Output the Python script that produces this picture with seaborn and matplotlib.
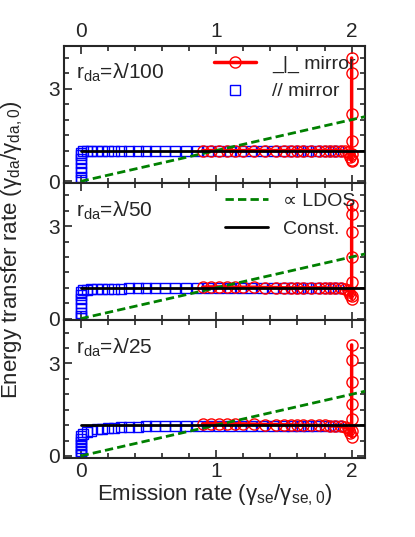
import matplotlib
matplotlib.use("Agg")
import matplotlib.pyplot as plt
import seaborn as sns
import numpy as np

sns.set_style("ticks")
plt.rcParams['font.family'] = ['Liberation Sans', 'DejaVu Sans']
plt.rcParams['mathtext.default'] = 'regular'

labels = ["r$_{da}$=λ/100", "r$_{da}$=λ/50", "r$_{da}$=λ/25"]

# parallel mirror (blue squares)
par_x = [0, 0, 0, 0, 0, 0, 0, 0, 0.02, 0.05, 0.08, 0.12, 0.16, 0.2, 0.25, 0.3, 0.36, 0.42,
         0.48, 0.55, 0.62, 0.7, 0.78, 0.86, 0.94, 1.02, 1.1, 1.18, 1.26, 1.34, 1.42, 1.5,
         1.56, 1.62, 1.68, 1.74, 1.8, 1.86, 1.9]
par_y = [[0.05, 0.15, 0.3, 0.45, 0.6, 0.72, 0.84, 0.93, 0.97, 0.98, 0.99, 0.99, 1.0, 1.0, 1.0,
          1.0, 1.0, 1.0, 1.0, 1.0, 1.0, 1.0, 1.0, 1.0, 1.0, 1.0, 1.0, 1.0, 1.0, 1.0, 1.0, 1.0,
          1.0, 1.0, 1.0, 1.0, 1.0, 1.0, 1.0],
         [0.02, 0.1, 0.2, 0.35, 0.5, 0.65, 0.78, 0.88, 0.92, 0.94, 0.95, 0.96, 0.96, 0.97, 0.97,
          0.97, 0.98, 0.98, 0.98, 0.98, 0.98, 0.98, 0.98, 0.98, 0.98, 0.98, 0.98, 0.98, 0.98,
          0.98, 0.98, 0.98, 0.98, 0.98, 0.98, 0.98, 0.98, 0.98, 0.98],
         [0.02, 0.08, 0.15, 0.25, 0.35, 0.45, 0.55, 0.65, 0.72, 0.78, 0.82, 0.86, 0.88, 0.9,
          0.92, 0.93, 0.94, 0.95, 0.96, 0.96, 0.97, 0.97, 0.97, 0.98, 0.98, 0.98, 0.98, 0.98,
          0.98, 0.98, 0.98, 0.98, 0.98, 0.98, 0.98, 0.98, 0.98, 0.98, 0.98]]

# perpendicular mirror (red circles)
perp_x = [0.9, 0.96, 1.02, 1.08, 1.14, 1.2, 1.28, 1.36, 1.44, 1.5, 1.55, 1.6, 1.64, 1.7,
          1.76, 1.8, 1.84, 1.88, 1.92, 1.95, 1.97, 1.98, 1.99, 2.0, 2.0, 2.0, 2.0, 2.0, 2.0, 2.0]
perp_y = [[1.0, 1.0, 1.0, 1.0, 1.0, 1.0, 1.0, 1.0, 1.0, 1.0, 1.0, 1.0, 1.0, 1.0, 1.0, 1.0,
           1.0, 1.0, 0.99, 0.98, 0.95, 0.9, 0.8, 0.65, 0.7, 0.9, 1.3, 2.2, 3.5, 4.0],
          [1.02, 1.03, 1.03, 1.03, 1.02, 1.02, 1.02, 1.01, 1.01, 1.0, 1.0, 1.0, 1.0, 1.0, 1.0,
           1.0, 0.99, 0.99, 0.98, 0.96, 0.93, 0.88, 0.78, 0.65, 0.75, 1.2, 2.0, 2.8, 3.4, 3.7],
          [1.04, 1.05, 1.05, 1.05, 1.04, 1.04, 1.03, 1.02, 1.02, 1.01, 1.01, 1.0, 1.0, 1.0,
           0.99, 0.99, 0.98, 0.97, 0.96, 0.94, 0.9, 0.85, 0.75, 0.62, 0.8, 1.2, 1.7, 2.4, 3.1, 3.6]]

ldos_x = [0, 2.1]

fig, axes = plt.subplots(3, 1, figsize=(4.15, 5.37), dpi=100, sharex=True)
fig.subplots_adjust(left=0.155, right=0.88, top=0.915, bottom=0.148, hspace=0)

for i, ax in enumerate(axes):
    h_perp, = ax.plot(perp_x, perp_y[i], color="red", lw=2.5, marker="o", ms=8, mfc="none",
                      mec="red", zorder=3)
    h_par, = ax.plot(par_x, par_y[i], ls="none", marker="s", ms=7, mfc="none", mec="blue",
                     zorder=2)
    h_ldos, = ax.plot(ldos_x, ldos_x, color="green", ls="--", lw=2, dashes=(3, 1.5), zorder=4)
    h_const, = ax.plot(ldos_x, [1, 1], color="black", lw=2, zorder=5)
    ax.set_xlim(-0.12, 2.1)
    ax.set_ylim(-0.05, 4.4)
    ax.set_yticks([0, 3])
    ax.set_yticks(np.arange(0, 4.5, 0.5), minor=True)
    ax.set_xticks([0, 1, 2])
    ax.set_xticks(np.arange(0, 2.1, 0.2), minor=True)
    ax.tick_params(direction="in", which="both", top=True, right=True, labelsize=15, width=1.2)
    ax.tick_params(which="major", length=6)
    ax.tick_params(which="minor", length=3.5)
    for s in ax.spines.values():
        s.set_linewidth(1.5)
    ax.text(0.04, 0.88, labels[i], transform=ax.transAxes, fontsize=15, va="top")
    if i == 0:
        ax.legend([h_perp, h_par], ["_|_ mirror", "// mirror"], loc="upper right",
                  frameon=False, fontsize=14, handlelength=2.2, borderaxespad=0.1)
    if i == 1:
        ax.legend([h_ldos, h_const], ["∝ LDOS", "Const."], loc="upper right",
                  frameon=False, fontsize=14, handlelength=2.2, borderaxespad=0.1)

axes[0].tick_params(labeltop=True)
axes[0].set_title("LDOS (N$_{rad}$/N$_0$)", fontsize=15, pad=20)
axes[2].set_xlabel("Emission rate (γ$_{se}$/γ$_{se,0}$)", fontsize=16, labelpad=1)
fig.text(0.03, 0.535, "Energy transfer rate (γ$_{da}$/γ$_{da,0}$)", rotation=90,
         fontsize=16, va="center", ha="center")

fig.savefig("out.png", dpi=100)
